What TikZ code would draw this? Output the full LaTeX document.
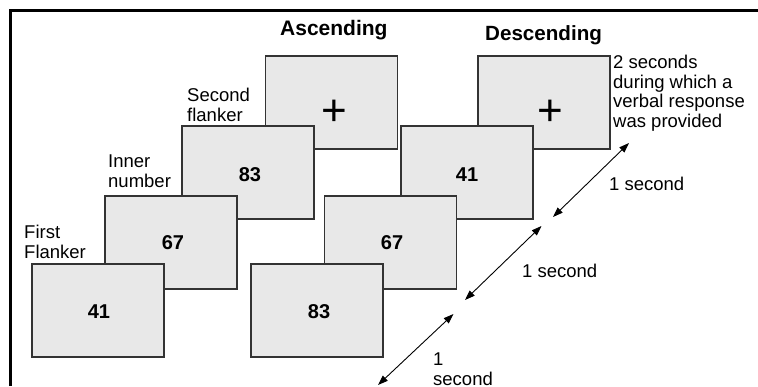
\documentclass[tikz,border=0pt]{standalone}
\usepackage{fontspec}
\setmainfont{Liberation Sans}
\usetikzlibrary{arrows.meta}
\definecolor{panelfill}{HTML}{E8E8E8}
\definecolor{paneledge}{HTML}{333333}
\tikzset{
  panel/.style={draw=paneledge, fill=panelfill, line width=1.2pt,
    minimum width=132pt, minimum height=93pt, inner sep=0pt},
  digits/.style={font=\fontsize{20}{24}\selectfont\bfseries, inner sep=0pt},
  cross/.style={font=\fontsize{44}{44}\selectfont, inner sep=0pt},
  heading/.style={font=\fontsize{21}{24}\selectfont\bfseries, inner sep=0pt, anchor=base west},
  note/.style={font=\fontsize{18.5}{20}\selectfont, inner sep=0pt, anchor=base west, align=left},
  interval/.style={line width=0.9pt, {Triangle[length=10pt,width=7pt]}-{Triangle[length=10pt,width=7pt]}},
}
\begin{document}
\begin{tikzpicture}[x=1pt, y=-1pt]
\useasboundingbox (0,0) rectangle (758,386);

% outer frame (only top and left edges fall inside the page)
\draw[line width=3pt, line join=miter] (10,386) -- (10,10) -- (758,10);

% headings
\node[heading] (asc) at (280,35) {Ascending};
\node[heading, font=\fontsize{20.6}{24}\selectfont\bfseries] (desc) at (485,40) {Descending};

% ascending sequence, back to front
\node[panel] (a4) at (331.5,102.5) {};
\node[cross] (a4c) at (334,113) {+};
\node[panel] (a3) at (248,172.5) {};
\node[digits] (a3n) at (250,174.5) {83};
\node[panel] (a2) at (171,242.5) {};
\node[digits] (a2n) at (173,242.5) {67};
\node[panel] (a1) at (98,310.5) {};
\node[digits] (a1n) at (99,311.5) {41};

% descending sequence, back to front
\node[panel] (d4) at (544,102.5) {};
\node[cross] (d4c) at (550,113) {+};
\node[panel] (d3) at (467,172.5) {};
\node[digits] (d3n) at (467,174.5) {41};
\node[panel] (d2) at (390.5,242.5) {};
\node[digits] (d2n) at (392,242.5) {67};
\node[panel] (d1) at (317,310.5) {};
\node[digits] (d1n) at (319,311.5) {83};

% stage labels (base anchor sits on the last line)
\node[note] (lfirst) at (24,258.5) {First\\Flanker};
\node[note] (linner) at (108,187.5) {Inner\\number};
\node[note] (lsecond) at (187,121.5) {Second\\flanker};
\node[note, font=\fontsize{18.5}{19.5}\selectfont] (lresp) at (613,127)
  {2 seconds\\during which a\\verbal response\\was provided};

% timing intervals
\coordinate (t1a) at (553,217);
\coordinate (t1b) at (629,143);
\coordinate (t2a) at (465,300);
\coordinate (t2b) at (541.5,226);
\coordinate (t3a) at (378,385);
\coordinate (t3b) at (453.5,314);
\draw[interval] (t1a) -- (t1b);
\draw[interval] (t2a) -- (t2b);
\draw[interval] (t3a) -- (t3b);

\node[note] (lt1) at (609,190.5) {1 second};
\node[note] (lt2) at (522,277.5) {1 second};
\node[note] (lt3) at (433,385) {1\\second};
\end{tikzpicture}
\end{document}
